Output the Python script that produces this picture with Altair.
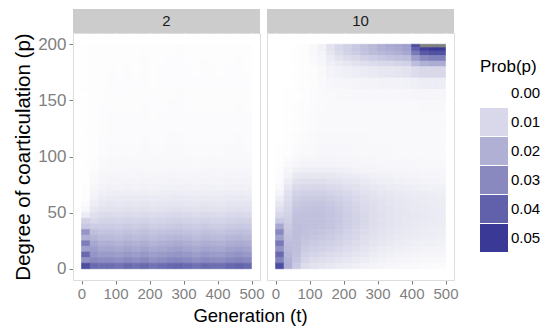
import altair as alt
import pandas as pd

# ---- data (probabilities in units of 0.001) ----
PANELS = [2, 10]
T_EDGES = [0, 25, 50, 75, 100, 125, 150, 175, 200, 225, 250, 275, 300, 325, 350,
           375, 400, 425, 450, 475, 500]
# row edges, from the top of the panel downwards
P_EDGES = [200, 197, 194, 190, 185, 180, 170, 160, 150, 140, 130, 120, 110, 100,
           95, 90, 85, 80, 75, 70, 65, 60, 55, 50, 45, 40, 35, 30, 25, 20, 15, 10, 5, 0]

PROB_2 = [
    [0.2, 0.4, 0.5, 0.6, 0.5, 0.6, 0.5, 0.6, 0.5, 0.6, 0.6, 0.7, 0.6, 0.5, 0.6, 0.5, 0.5, 0.6, 0.6, 0.5],
    [0.2, 0.4, 0.5, 0.6, 0.5, 0.6, 0.5, 0.6, 0.5, 0.6, 0.6, 0.7, 0.6, 0.5, 0.6, 0.5, 0.5, 0.6, 0.6, 0.5],
    [0.2, 0.4, 0.5, 0.6, 0.6, 0.6, 0.5, 0.7, 0.5, 0.6, 0.6, 0.7, 0.6, 0.5, 0.6, 0.6, 0.5, 0.6, 0.6, 0.5],
    [0.2, 0.4, 0.5, 0.6, 0.6, 0.6, 0.6, 0.7, 0.5, 0.6, 0.7, 0.7, 0.6, 0.6, 0.6, 0.6, 0.5, 0.6, 0.7, 0.6],
    [0.2, 0.4, 0.5, 0.6, 0.6, 0.7, 0.6, 0.7, 0.6, 0.6, 0.7, 0.7, 0.6, 0.6, 0.7, 0.6, 0.6, 0.6, 0.7, 0.6],
    [0.2, 0.4, 0.6, 0.7, 0.6, 0.7, 0.6, 0.7, 0.6, 0.7, 0.7, 0.8, 0.7, 0.6, 0.7, 0.7, 0.6, 0.7, 0.7, 0.6],
    [0.2, 0.4, 0.6, 0.7, 0.7, 0.7, 0.7, 0.8, 0.6, 0.7, 0.7, 0.8, 0.7, 0.7, 0.7, 0.7, 0.7, 0.7, 0.8, 0.7],
    [0.2, 0.5, 0.6, 0.8, 0.7, 0.8, 0.7, 0.8, 0.7, 0.8, 0.8, 0.9, 0.8, 0.7, 0.8, 0.8, 0.7, 0.8, 0.8, 0.7],
    [0.2, 0.5, 0.7, 0.8, 0.8, 0.8, 0.8, 0.9, 0.7, 0.8, 0.9, 0.9, 0.8, 0.8, 0.8, 0.8, 0.8, 0.8, 0.9, 0.8],
    [0.2, 0.5, 0.7, 0.9, 0.9, 0.9, 0.9, 1.0, 0.8, 0.9, 1.0, 1.0, 0.9, 0.9, 0.9, 0.9, 0.9, 0.9, 1.0, 0.9],
    [0.2, 0.5, 0.8, 1.0, 1.0, 1.0, 1.0, 1.1, 0.9, 1.0, 1.1, 1.1, 1.0, 1.0, 1.0, 1.0, 1.0, 1.0, 1.1, 1.0],
    [0.2, 0.6, 0.9, 1.1, 1.1, 1.1, 1.1, 1.2, 1.0, 1.1, 1.2, 1.2, 1.1, 1.1, 1.1, 1.1, 1.1, 1.1, 1.2, 1.1],
    [0.2, 0.6, 1.0, 1.3, 1.2, 1.3, 1.3, 1.4, 1.2, 1.3, 1.4, 1.4, 1.3, 1.3, 1.3, 1.3, 1.3, 1.4, 1.4, 1.3],
    [0.2, 0.7, 1.2, 1.5, 1.4, 1.5, 1.5, 1.6, 1.4, 1.5, 1.6, 1.6, 1.5, 1.5, 1.5, 1.5, 1.5, 1.6, 1.6, 1.5],
    [0.2, 0.8, 1.4, 1.7, 1.6, 1.7, 1.7, 1.8, 1.6, 1.7, 1.8, 1.8, 1.7, 1.6, 1.7, 1.7, 1.7, 1.8, 1.8, 1.7],
    [0.3, 1.0, 1.7, 2.0, 1.9, 2.0, 2.0, 2.1, 1.9, 2.0, 2.1, 2.1, 2.0, 1.9, 2.1, 2.0, 2.0, 2.1, 2.1, 2.0],
    [0.3, 1.2, 2.0, 2.4, 2.3, 2.4, 2.4, 2.5, 2.3, 2.4, 2.5, 2.5, 2.4, 2.3, 2.5, 2.4, 2.4, 2.5, 2.6, 2.5],
    [0.3, 1.5, 2.5, 2.9, 2.8, 3.0, 2.9, 3.0, 2.8, 2.9, 3.0, 3.1, 3.0, 2.8, 3.0, 2.9, 2.9, 3.0, 3.1, 3.0],
    [0.4, 1.9, 3.0, 3.5, 3.4, 3.6, 3.4, 3.6, 3.4, 3.5, 3.6, 3.7, 3.6, 3.4, 3.6, 3.5, 3.4, 3.6, 3.7, 3.6],
    [0.5, 2.5, 3.8, 4.3, 4.2, 4.4, 4.2, 4.4, 4.1, 4.3, 4.5, 4.6, 4.4, 4.2, 4.4, 4.3, 4.2, 4.5, 4.6, 4.4],
    [0.6, 3.3, 4.7, 5.2, 5.0, 5.3, 5.1, 5.4, 5.0, 5.2, 5.4, 5.5, 5.3, 5.0, 5.4, 5.2, 5.1, 5.4, 5.6, 5.4],
    [1.0, 4.5, 5.8, 6.3, 6.1, 6.4, 6.2, 6.5, 6.0, 6.3, 6.6, 6.7, 6.4, 6.1, 6.5, 6.3, 6.2, 6.6, 6.7, 6.5],
    [2.0, 6.0, 7.2, 7.6, 7.4, 7.8, 7.4, 7.8, 7.3, 7.6, 7.9, 8.1, 7.8, 7.4, 7.8, 7.6, 7.4, 7.9, 8.1, 7.8],
    [5.0, 8.0, 9.0, 9.2, 8.9, 9.4, 9.0, 9.5, 8.8, 9.2, 9.6, 9.8, 9.4, 8.9, 9.5, 9.2, 9.0, 9.6, 9.8, 9.5],
    [12, 10, 11, 11, 10.7, 11.2, 10.8, 11.3, 10.6, 11, 11.4, 11.7, 11.2, 10.7, 11.3, 11, 10.8, 11.4, 11.8, 11.3],
    [14, 13, 13, 13, 12.6, 13.3, 12.7, 13.4, 12.5, 13, 13.5, 13.8, 13.3, 12.6, 13.4, 13, 12.7, 13.5, 13.9, 13.4],
    [27, 16, 15, 15.2, 14.7, 15.5, 14.9, 15.7, 14.6, 15.2, 15.8, 16.1, 15.5, 14.7, 15.7, 15.2, 14.9, 15.8, 16.3, 15.7],
    [20, 19, 17.5, 17.5, 17, 17.9, 17.2, 18, 16.8, 17.5, 18.2, 18.5, 17.9, 17, 18, 17.5, 17.2, 18.2, 18.7, 18],
    [33, 22, 20, 20, 19.4, 20.4, 19.6, 20.6, 19.2, 20, 20.8, 21.2, 20.4, 19.4, 20.6, 20, 19.6, 20.8, 21.4, 20.6],
    [24, 25, 22.5, 22.7, 22, 23.2, 22.2, 23.4, 21.8, 22.7, 23.6, 24, 23.2, 22, 23.4, 22.7, 22.2, 23.6, 24.3, 23.4],
    [38, 27, 25.5, 25.5, 24.7, 26, 25, 26.3, 24.5, 25.5, 26.5, 27, 26, 24.7, 26.3, 25.5, 25, 26.5, 27.3, 26.3],
    [28, 30, 29, 29, 28.1, 29.6, 28.4, 29.9, 27.8, 29, 30.2, 30.7, 29.6, 28.1, 29.9, 29, 28.4, 30.2, 31, 29.9],
    [45, 38, 37, 37, 36, 38, 36.5, 38, 35.5, 37, 38.5, 39, 38, 36, 38, 37, 36.5, 38.5, 39.5, 38],
]

PROB_10 = [
    [0.1, 0.1, 0.2, 0.5, 1.5, 3.5, 7.0, 10, 12, 14, 16, 18, 20, 22, 23, 25, 45, 60, 60, 60],
    [0.1, 0.1, 0.2, 0.5, 1.5, 3.5, 7.0, 10, 12, 14, 16, 18, 20, 21, 22, 24, 40, 48, 50, 50],
    [0.1, 0.1, 0.2, 0.5, 1.4, 3.0, 6.0, 9.0, 11, 13, 15, 17, 18, 19, 20, 22, 34, 42, 44, 44],
    [0.1, 0.1, 0.2, 0.5, 1.2, 2.5, 5.0, 7.0, 9.0, 10, 12, 13, 14, 15, 16, 17, 25, 30, 32, 32],
    [0.1, 0.1, 0.2, 0.5, 1.0, 2.0, 4.0, 5.0, 6.0, 7.0, 8.0, 9.0, 10, 10, 11, 12, 17, 20, 21, 21],
    [0.1, 0.1, 0.2, 0.5, 0.8, 1.5, 3.0, 3.5, 4.0, 4.5, 5.0, 5.5, 6.0, 6.0, 6.5, 7.0, 9.0, 10, 10, 10],
    [0.1, 0.1, 0.3, 0.5, 0.8, 1.3, 2.0, 2.3, 2.5, 2.8, 3.0, 3.1, 3.2, 3.2, 3.3, 3.5, 4.0, 4.5, 4.5, 4.5],
    [0.1, 0.2, 0.3, 0.6, 0.9, 1.2, 1.5, 1.7, 1.8, 2.0, 2.0, 2.1, 2.1, 2.1, 2.1, 2.1, 2.3, 2.5, 2.5, 2.5],
    [0.1, 0.2, 0.4, 0.8, 1.1, 1.3, 1.4, 1.5, 1.6, 1.6, 1.6, 1.6, 1.6, 1.5, 1.5, 1.5, 1.6, 1.7, 1.7, 1.7],
    [0.1, 0.2, 0.5, 0.9, 1.2, 1.4, 1.5, 1.5, 1.6, 1.6, 1.5, 1.5, 1.5, 1.5, 1.4, 1.4, 1.5, 1.5, 1.5, 1.5],
    [0.1, 0.3, 0.6, 1.0, 1.3, 1.5, 1.6, 1.6, 1.6, 1.6, 1.5, 1.5, 1.5, 1.4, 1.4, 1.4, 1.4, 1.4, 1.4, 1.4],
    [0.1, 0.4, 0.8, 1.2, 1.5, 1.7, 1.8, 1.8, 1.8, 1.7, 1.7, 1.6, 1.6, 1.5, 1.5, 1.5, 1.5, 1.4, 1.4, 1.4],
    [0.2, 0.6, 1.2, 1.6, 1.8, 2.0, 2.0, 2.0, 2.0, 1.9, 1.8, 1.8, 1.7, 1.7, 1.6, 1.6, 1.6, 1.5, 1.5, 1.5],
    [0.3, 1.0, 1.8, 2.2, 2.4, 2.5, 2.5, 2.4, 2.3, 2.2, 2.1, 2.0, 1.9, 1.9, 1.8, 1.8, 1.7, 1.7, 1.6, 1.6],
    [0.4, 1.5, 2.5, 3.0, 3.0, 3.0, 3.0, 2.9, 2.8, 2.6, 2.4, 2.3, 2.2, 2.1, 2.0, 2.0, 1.9, 1.8, 1.8, 1.7],
    [0.5, 2.2, 3.8, 4.3, 4.3, 4.3, 4.2, 4.0, 3.7, 3.4, 3.1, 2.8, 2.6, 2.5, 2.4, 2.3, 2.2, 2.1, 2.0, 2.0],
    [0.7, 3.2, 5.5, 6.2, 6.2, 6.2, 6.0, 5.6, 5.2, 4.8, 4.3, 3.8, 3.5, 3.2, 3.0, 2.9, 2.7, 2.6, 2.5, 2.4],
    [1.0, 4.5, 7.5, 8.1, 8.1, 8.0, 7.7, 7.2, 6.6, 6.0, 5.4, 4.8, 4.4, 4.1, 3.8, 3.6, 3.3, 3.1, 3.0, 2.9],
    [1.5, 6.0, 9.4, 10, 10, 10, 9.5, 8.9, 8.1, 7.4, 6.6, 5.8, 5.3, 4.9, 4.6, 4.3, 4.0, 3.8, 3.6, 3.5],
    [2.5, 7.5, 11.2, 11.9, 12, 11.9, 11.2, 10.5, 9.6, 8.7, 7.7, 6.8, 6.2, 5.8, 5.4, 5.1, 4.7, 4.5, 4.2, 4.1],
    [4.0, 8.5, 12.5, 13.1, 13.5, 13.4, 12.7, 11.9, 10.7, 9.7, 8.5, 7.5, 6.8, 6.3, 5.9, 5.6, 5.2, 5.0, 4.7, 4.5],
    [6.0, 9.5, 13.7, 14.4, 14.7, 14.6, 13.9, 12.9, 11.6, 10.5, 9.1, 8.0, 7.3, 6.7, 6.3, 5.9, 5.5, 5.2, 4.9, 4.7],
    [8.0, 10.5, 14.7, 15.2, 15.5, 15.4, 14.6, 13.5, 12.2, 11, 9.6, 8.4, 7.6, 7.0, 6.5, 6.1, 5.7, 5.4, 5.1, 4.9],
    [10, 11.5, 15.4, 15.7, 15.9, 15.7, 15, 13.9, 12.5, 11.2, 9.8, 8.6, 7.8, 7.1, 6.6, 6.2, 5.8, 5.5, 5.2, 5.0],
    [14, 12.5, 16, 16, 16, 15.7, 15, 13.9, 12.5, 11.2, 9.8, 8.5, 7.7, 7.0, 6.5, 6.1, 5.7, 5.4, 5.1, 4.9],
    [22, 13.5, 16.2, 16, 15.7, 15.4, 14.6, 13.5, 12.1, 11, 9.6, 8.3, 7.5, 6.8, 6.3, 5.9, 5.5, 5.2, 4.9, 4.7],
    [30, 14.5, 16.5, 15.7, 15.2, 14.7, 14, 12.9, 11.6, 10.5, 9.1, 8.0, 7.2, 6.5, 6.0, 5.6, 5.2, 4.9, 4.6, 4.4],
    [24, 15.5, 16.6, 15.2, 14.5, 13.9, 13.1, 12.1, 11, 9.9, 8.5, 7.4, 6.6, 6.0, 5.5, 5.1, 4.8, 4.4, 4.2, 4.0],
    [34, 16.5, 16.5, 14.5, 13.5, 12.7, 12, 11.1, 10, 9.0, 7.8, 6.7, 5.9, 5.4, 4.9, 4.5, 4.1, 3.9, 3.7, 3.5],
    [28, 17.5, 16.2, 13.5, 12.2, 11.5, 10.7, 9.9, 8.9, 8.0, 6.8, 5.9, 5.2, 4.6, 4.2, 3.8, 3.5, 3.3, 3.1, 2.9],
    [38, 18.5, 15.7, 12.2, 10.7, 10, 9.2, 8.5, 7.6, 6.7, 5.8, 4.9, 4.3, 3.7, 3.3, 3.0, 2.8, 2.6, 2.4, 2.2],
    [32, 19.5, 15, 10.7, 9.1, 8.4, 7.6, 6.9, 6.1, 5.4, 4.6, 3.9, 3.3, 2.9, 2.5, 2.3, 2.1, 1.9, 1.7, 1.6],
    [45, 20, 13.7, 9.0, 7.2, 6.5, 5.9, 5.2, 4.6, 4.0, 3.4, 2.7, 2.3, 2.0, 1.8, 1.6, 1.4, 1.2, 1.1, 1.0],
]

LEGEND_VALUES = [0.00, 0.01, 0.02, 0.03, 0.04, 0.05]
X_TICKS = [0, 50, 100, 150, 200, 250, 300, 350, 400, 450, 500]
Y_TICKS = [0, 25, 50, 75, 100, 125, 150, 175, 200]
X_TITLE = "Generation (t)"
Y_TITLE = "Degree of coarticulation (p)"

records = []
for k, grid in zip(PANELS, [PROB_2, PROB_10]):
    for i, row in enumerate(grid):
        for j, v in enumerate(row):
            records.append({"k": k, "t0": T_EDGES[j], "t1": T_EDGES[j + 1],
                            "p0": P_EDGES[i + 1], "p1": P_EDGES[i], "prob": v / 1000})
df = pd.DataFrame(records)

FONT = "Liberation Sans"
W, H = 187, 247
GREY_TXT = "#7f7f7f"

col_scale = alt.Scale(domain=[0, 0.05], range=["#ffffff", "#3a3a96"], clamp=True,
                      interpolate="rgb")
na_test = "datum.prob > 0.05"

x_axis = alt.Axis(
    values=X_TICKS, title=None,
    labelExpr="datum.value % 100 === 0 ? datum.label : ''",
    tickOpacity={"condition": {"test": "datum.value % 100 === 0", "value": 1}, "value": 0},
    gridWidth={"condition": {"test": "datum.value % 100 === 0", "value": 1.2}, "value": 0.6},
    gridColor="#ffffff", domain=False, tickColor=GREY_TXT, tickSize=4, tickWidth=1,
    labelColor=GREY_TXT, labelFontSize=15, labelPadding=2, labelFlush=False,
    labelOverlap=False)
y_axis = alt.Axis(
    values=Y_TICKS, title=Y_TITLE,
    labelExpr="datum.value % 50 === 0 ? datum.label : ''",
    tickOpacity={"condition": {"test": "datum.value % 50 === 0", "value": 1}, "value": 0},
    gridWidth={"condition": {"test": "datum.value % 50 === 0", "value": 1.2}, "value": 0.6},
    gridColor="#ffffff", domain=False, tickColor=GREY_TXT, tickSize=4, tickWidth=1,
    labelColor=GREY_TXT, labelFontSize=17, labelPadding=3, labelOverlap=False,
    titleFontSize=20.5, titleFontWeight="normal", titleColor="#000000", titlePadding=4)

heat = alt.Chart().mark_rect(strokeWidth=0.6).encode(
    x=alt.X("t0:Q", scale=alt.Scale(domain=[-25, 525], nice=False, zero=False), axis=x_axis),
    x2="t1:Q",
    y=alt.Y("p0:Q", scale=alt.Scale(domain=[-10, 210], nice=False, zero=False), axis=y_axis),
    y2="p1:Q",
    color=alt.condition(na_test, alt.value("#7f7f7f"),
                        alt.Color("prob:Q", scale=col_scale,
                                  legend=alt.Legend(title="Prob(p)", type="symbol",
                                                    values=LEGEND_VALUES, format=".2f",
                                                    symbolType="square", symbolSize=784,
                                                    symbolStrokeWidth=0, rowPadding=1,
                                                    labelFontSize=15, titleFontSize=17,
                                                    titleFontWeight="normal",
                                                    titlePadding=3, labelOffset=3,
                                                    orient="none", legendX=407,
                                                    legendY=26))),
    stroke=alt.condition(na_test, alt.value("#7f7f7f"),
                         alt.Stroke("prob:Q", scale=col_scale, legend=None)),
)

strip = alt.Chart().transform_aggregate(n="count()", groupby=["k"]).mark_rect(
    color="#cccccc").encode(x=alt.value(0), x2=alt.value(W), y=alt.value(-24), y2=alt.value(0))
strip_text = alt.Chart().transform_aggregate(n="count()", groupby=["k"]).mark_text(
    fontSize=15, font=FONT, color="#1a1a1a", baseline="middle").encode(
    text="k:N", x=alt.value(W / 2), y=alt.value(-12))
x_title = alt.Chart().transform_filter("datum.k == 2").transform_aggregate(
    n="count()", groupby=["k"]).mark_text(
    fontSize=18.5, font=FONT, color="#000000", baseline="alphabetic", align="center").encode(
    text=alt.value(X_TITLE), x=alt.value(177.5), y=alt.value(H + 42))

chart = alt.layer(heat, strip, strip_text, x_title, data=df).properties(
    width=W, height=H).facet(
    column=alt.Column("k:O", sort=PANELS, header=alt.Header(labels=False, title=None)),
    spacing=7, bounds="flush",
).properties(padding={"left": 5, "top": 0, "right": 0, "bottom": 0}).configure_view(
    stroke=None, fill="#e5e5e5").configure(font=FONT).configure_legend(
    labelFont=FONT, titleFont=FONT)

chart.save("out.html", embed_options={"renderer": "svg", "actions": False})
